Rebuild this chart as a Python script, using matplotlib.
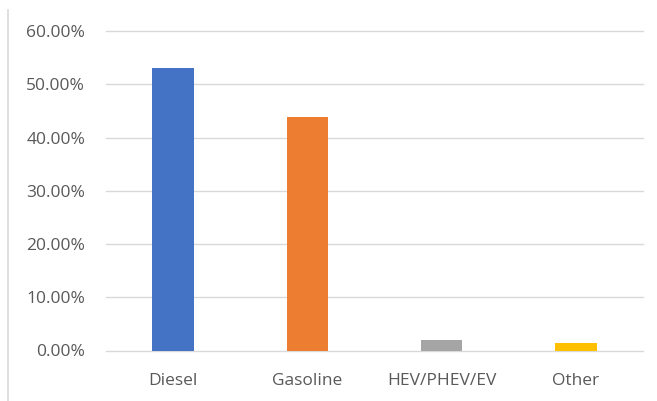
import matplotlib.pyplot as plt
from matplotlib.lines import Line2D
from matplotlib.ticker import PercentFormatter

categories = ["Diesel", "Gasoline", "HEV/PHEV/EV", "Other"]
shares = [53.0, 43.8, 1.9, 1.4]
colors = ["#4472C4", "#ED7D31", "#A5A5A5", "#FFC000"]

plt.rcParams["font.family"] = ["Open Sans", "DejaVu Sans"]

W, H = 657, 401
fig = plt.figure(figsize=(W / 100, H / 100), dpi=100)
left, right, top, bottom = 106, 643, 31, 350.5
ax = fig.add_axes([left / W, 1 - bottom / H, (right - left) / W, (bottom - top) / H])

ax.bar(range(len(categories)), shares, width=0.31, color=colors, zorder=3)

ax.set_xlim(-0.5, 3.5)
ax.set_ylim(0, 60)
ax.set_yticks(range(0, 61, 10))
ax.yaxis.set_major_formatter(PercentFormatter(decimals=2))
ax.set_xticks(range(len(categories)))
ax.set_xticklabels(categories)
ax.grid(axis="y", color="#d9d9d9", linewidth=1, zorder=0)
for line in ax.get_ygridlines():
    line.set_clip_on(False)
for s in ax.spines.values():
    s.set_visible(False)
ax.tick_params(length=0, colors="#595959", labelsize=12.5)
ax.tick_params(axis="y", pad=15)
ax.tick_params(axis="x", pad=16)

# chart area border on the left
fig.add_artist(Line2D([8 / W, 8 / W], [0, 1 - 10 / H], color="#d9d9d9", linewidth=1.2,
                      transform=fig.transFigure))

fig.savefig("out.png", dpi=100)
